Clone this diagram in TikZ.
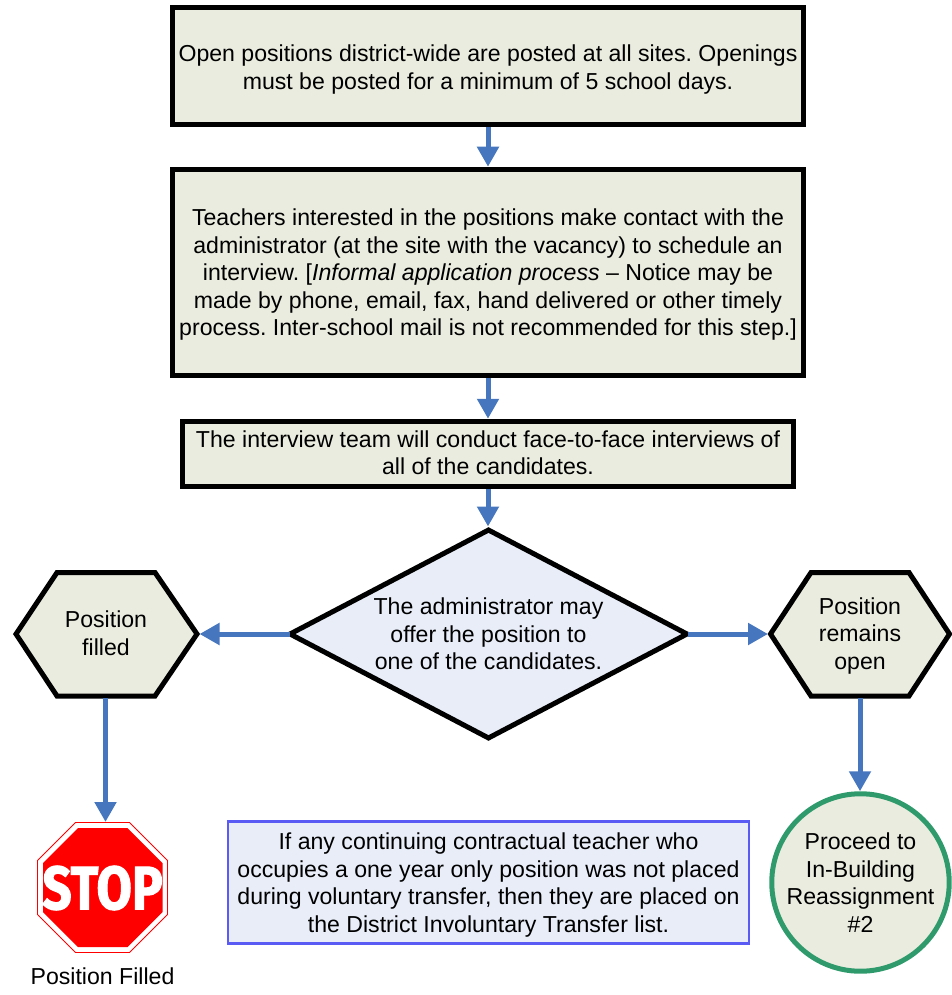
\documentclass[tikz,border=0pt]{standalone}
\usepackage{fontspec}
\usepackage{graphicx}
\setmainfont{Liberation Sans}
\newfontfamily\stopfont{Fira Sans}[UprightFont=* Bold,FakeBold=2]
\usetikzlibrary{shapes.geometric,arrows.meta}
\definecolor{boxfill}{HTML}{EBECE0}
\definecolor{bluefill}{HTML}{E8EDF8}
\definecolor{arrowblue}{HTML}{4676BE}
\definecolor{notestroke}{HTML}{5A5AF5}
\definecolor{circlegreen}{HTML}{2F9B6C}
\newcommand{\firstdown}[1]{\rule{0pt}{\dimexpr 17pt+#1\relax}}
\newcommand{\lastup}[1]{\rule[-\dimexpr 5pt+#1\relax]{0pt}{0pt}}
\tikzset{
  x=1pt,y=-1pt,
  every node/.style={font=\frenchspacing\fontsize{23.1}{27.6}\selectfont,align=center,inner sep=0pt,text=black},
  stepbox/.style={draw=black,line width=5pt,fill=boxfill,rectangle,minimum width=631.5pt,miter limit=10},
  hexshape/.style={draw=black,line width=5pt,fill=boxfill,line join=miter},
  flow/.style={draw=arrowblue,line width=5pt,-{Triangle[width=21pt,length=20pt]},shorten >=0pt},
}
\begin{document}
\begin{tikzpicture}
\useasboundingbox (0,0) rectangle (952,995);
\node[stepbox,minimum height=117.5pt] (post) at (488,66) {\firstdown{7pt}Open positions district-wide are posted at all sites. Openings\\must be posted for a minimum of 5 school days.};
\node[stepbox,minimum height=206.5pt] (contact) at (488,272.5) {\firstdown{4pt}Teachers interested in the positions make contact with the\\administrator (at the site with the vacancy) to schedule an\\interview. [\textit{Informal application process} -- Notice may be\\made by phone, email, fax, hand delivered or other timely\\process. Inter-school mail is not recommended for this step.]};
\node[stepbox,minimum width=611.5pt,minimum height=65.5pt] (team) at (488,454) {The interview team will conduct face-to-face interviews of\\all of the candidates.\lastup{-2pt}};
\node[diamond,draw=black,line width=5pt,fill=bluefill,minimum width=399pt,minimum height=210pt,aspect=1.87] (offer) at (488.5,634) {The administrator may\\offer the position to\\one of the candidates.};
% hexagons
\filldraw[hexshape] (16,634) -- (57,572.5) -- (155,572.5) -- (197,634) -- (155,696) -- (57,696) -- cycle;
\node (filled) at (106,633.5) {Position\\filled};
\coordinate (filledE) at (199.5,634);
\coordinate (filledS) at (105.5,698);
\filldraw[hexshape] (770.5,634) -- (811,572.5) -- (909,572.5) -- (949.5,634) -- (909,696) -- (811,696) -- cycle;
\node (open) at (860,636) {Position\\remains\\open};
\coordinate (openW) at (768,634);
\coordinate (openS) at (860,698);
% stop sign
\filldraw[draw=red,line width=0.8pt,fill=white] (75.5,822.5) -- (129.5,822.5) -- (167.5,860.5) -- (167.5,914.5) -- (129.5,952.5) -- (75.5,952.5) -- (37.5,914.5) -- (37.5,860.5) -- cycle;
\fill[red] (78,828) -- (127.5,828) -- (162.5,863) -- (162.5,912) -- (127.5,947) -- (78,947) -- (43,912) -- (43,863) -- cycle;
\node[text=white,font=\stopfont\fontsize{61}{61}\selectfont] (stopsign) at (102.5,888) {\scalebox{0.84}[1]{STOP}};
\coordinate (stopN) at (105.5,822);
\node (stoplabel) at (102.5,976) {Position Filled};
% note
\node[rectangle,draw=notestroke,line width=2.5pt,fill=bluefill,minimum width=521pt,minimum height=122pt] (note) at (488.5,882.5) {\firstdown{5pt}If any continuing contractual teacher who\\occupies a one year only position was not placed\\during voluntary transfer, then they are placed on\\the District Involuntary Transfer list.};
% circle
\node[circle,draw=circlegreen,line width=5pt,fill=boxfill,minimum size=174pt] (reassign) at (860.5,882.5) {Proceed to\\In-Building\\Reassignment\\\#2};
% connectors
\draw[flow] (post.south) -- (contact.north);
\draw[flow] (contact.south) -- (team.north);
\draw[flow] (team.south) -- (team.south|-offer.north);
\draw[flow,shorten <=-3pt] (offer.west) -- (filledE);
\draw[flow,shorten <=-3pt] (offer.east) -- (openW);
\draw[flow] (filledS) -- (stopN);
\draw[flow] (openS) -- (openS|-reassign.north);
\end{tikzpicture}
\end{document}
